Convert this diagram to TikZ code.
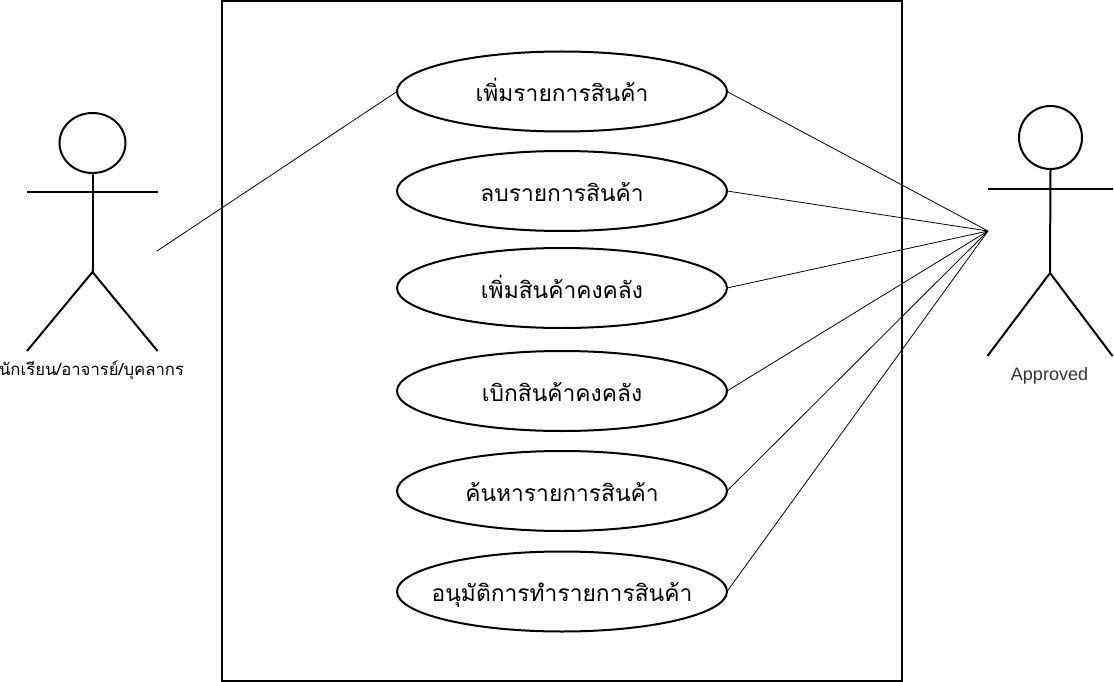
\documentclass[tikz,border=0pt]{standalone}
\usepackage{fontspec}
\setmainfont{Liberation Sans}
\newfontfamily\thaifont[Script=Thai]{Loma}
\usetikzlibrary{calc,shapes.geometric}

\tikzset{
  usecase/.style={draw,ellipse,line width=2pt,inner sep=0pt,outer sep=0pt,
    minimum width=330pt,minimum height=80pt,text height=20pt,text depth=0pt,
    font=\thaifont\fontsize{22.8}{27}\selectfont},
  limb/.style={line width=2pt},
  link/.style={line width=0.8pt},
  head/.style={draw,ellipse,line width=2pt,inner sep=0pt,outer sep=0pt}
}

\begin{document}
\begin{tikzpicture}[x=1pt,y=-1pt]
  \useasboundingbox (0,0) rectangle (1114,682);

  %% System boundary
  \node[draw,line width=2pt,inner sep=0pt,outer sep=0pt,minimum width=680pt,minimum height=680pt] (SYS) at (562,341) {};

  %% Use cases
  \foreach \x/\y/\label in {1/91.5/เพิ่มรายการสินค้า,2/191/ลบรายการสินค้า,3/288/เพิ่มสินค้าคงคลัง,
    4/391/เบิกสินค้าคงคลัง,5/491/ค้นหารายการสินค้า,6/591.5/อนุมัติการทำรายการสินค้า}
  {
    \node[usecase] (UC\x) at (562,\y) {\makebox[0pt][c]{\label}};
  }

  %% Left actor
  \node[head,minimum width=66pt,minimum height=60pt] (HEADL) at (92.5,143) {};
  \coordinate (ARMLa) at (27,192);
  \coordinate (ARMLb) at (157.5,192);
  \coordinate (HIPL) at (92.5,272);
  \coordinate (FOOTLa) at (27,351);
  \coordinate (FOOTLb) at (157.5,351);
  \draw[limb] (HEADL.south) -- (HIPL);
  \draw[limb] (ARMLa) -- (ARMLb);
  \draw[limb] (FOOTLa) -- (HIPL) -- (FOOTLb);
  \node[anchor=base,font=\thaifont\fontsize{16.7}{20}\selectfont] (NAMEL) at (91.5,375) {นักเรียน/อาจารย์/บุคลากร};

  %% Right actor
  \node[head,minimum width=63pt,minimum height=63pt] (HEADR) at (1050.5,137.5) {};
  \coordinate (ARMRa) at (987.5,189);
  \coordinate (ARMRb) at (1112.5,189);
  \coordinate (HIPR) at (1050,273);
  \coordinate (FOOTRa) at (987.5,356);
  \coordinate (FOOTRb) at (1112.5,356);
  \draw[limb] (HEADR.south) -- (HIPR);
  \draw[limb] (ARMRa) -- (ARMRb);
  \draw[limb] (FOOTRa) -- (HIPR) -- (FOOTRb);
  \node[anchor=base,font=\fontsize{18}{21}\selectfont,text=black!80] (NAMER) at (1049.5,380) {Approved};

  %% Connectors
  \coordinate (LEFTEND) at (157,251);
  \coordinate (RIGHTEND) at (988,231);
  \draw[link] (UC1.west) -- (LEFTEND);
  \foreach \x in {1,2,...,6}
  {
    \draw[link] (UC\x.east) -- (RIGHTEND);
  }
\end{tikzpicture}
\end{document}
